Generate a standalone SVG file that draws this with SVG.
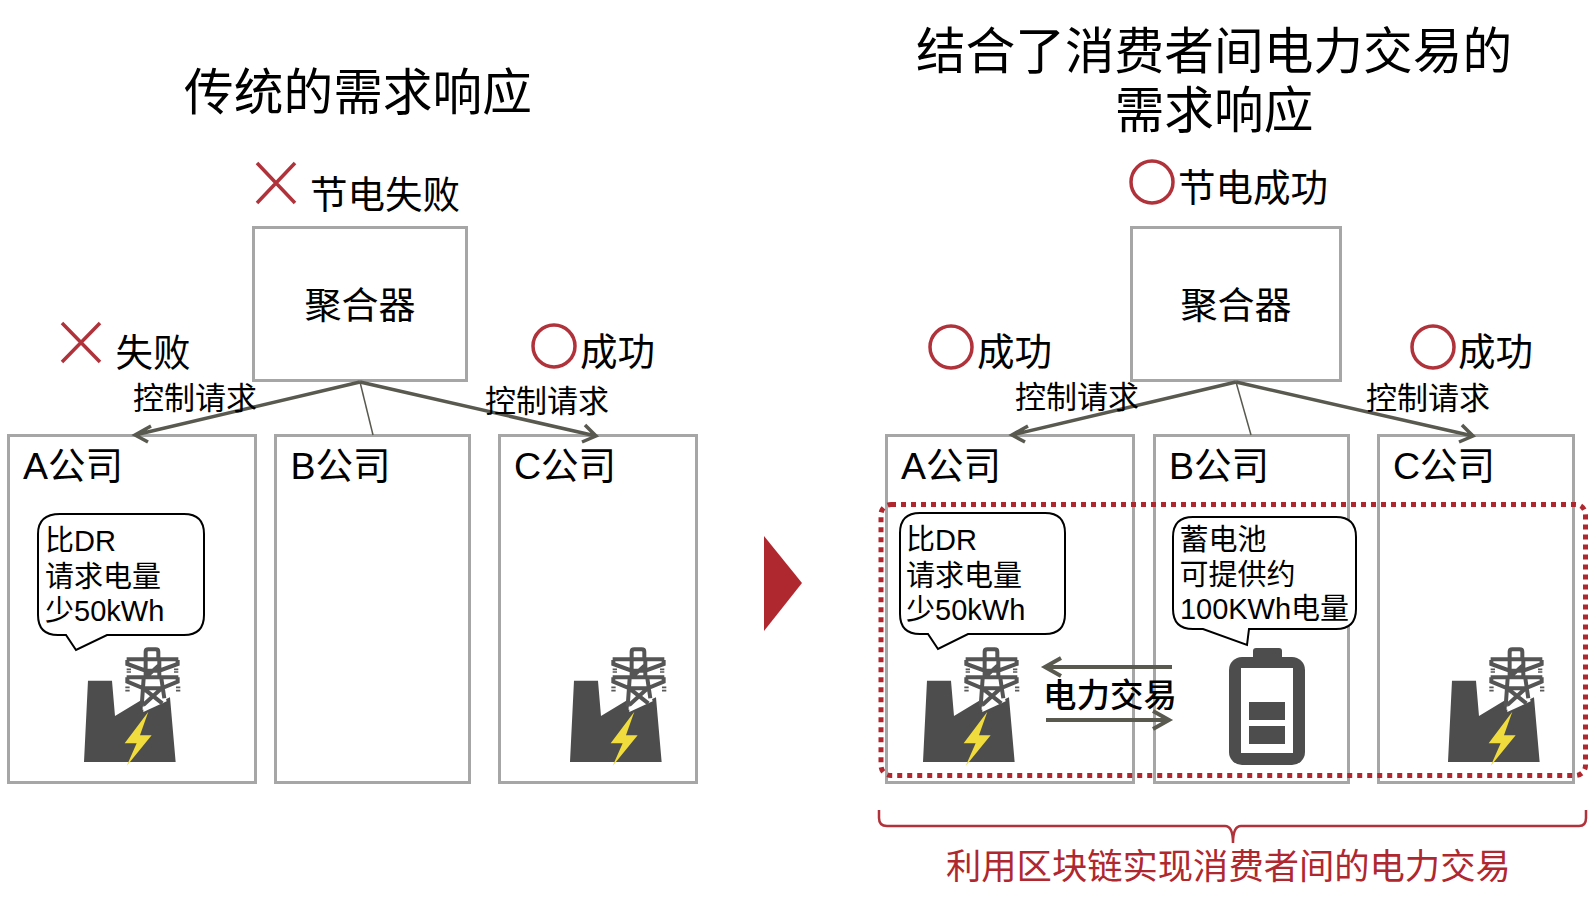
<svg xmlns="http://www.w3.org/2000/svg" width="1588" height="906" viewBox="0 0 1588 906">
<style>
text{font-family:"Liberation Sans","Noto Sans CJK SC",sans-serif;fill:#000}
.title{font-size:49.7px;text-anchor:middle}
.l{font-size:37.5px}
.c{font-size:37px;text-anchor:middle}
.req{font-size:31px}
.b{font-size:29px}
.box{fill:#fff;stroke:#a6a6a6;stroke-width:3}
.bub{fill:#fff;stroke:#000;stroke-width:2}
.mark{fill:none;stroke:#b0323a;stroke-width:3.5}
.thick{fill:none;stroke:#595950;stroke-width:3.5}
.thin{fill:none;stroke:#595950;stroke-width:1.5}
.ic{fill:#4d4d4d}
.tw{fill:none;stroke:#555;stroke-width:12}
.red{fill:#b0282f}
</style>
<defs>
<g id="factory" transform="translate(0,480) scale(.3333)">
<path class="ic" d="M252 846L264 602H336L345 708L428 658V690L510 652L527 846Z"/>
<path fill="#fff" d="M432 625H490L500 664L430 696Z"/>
<g transform="translate(345,480)">
<path class="tw" d="M92 55V35Q92 28 100 28H122Q130 28 130 35V55M35 58H190M37 60V72L92 92H133L188 72V60M35 112H190M37 112V125L85 145H140L188 125V112M92 55V112M133 55V112M92 112L133 75M86 115L80 200M139 115L148 175M85 145L142 190M140 145L85 195"/>
<path d="M35 88h13M35 96h13M177 88h13M177 96h13M31 142h13M31 152h13M183 142h13M183 152h13" stroke="#595959" stroke-width="5"/>
</g>
<path d="M445 695L374 790H410L380 858L455 766H420Z" fill="#f0dc3c"/>
</g>
</defs>

<g id="title-left"><text class="title" x="358" y="110">传统的需求响应</text></g>
<g id="title-right"><text class="title" x="1214" y="69">结合了消费者间电力交易的</text><text class="title" x="1214" y="128">需求响应</text></g>

<g id="left-aggregator"><rect class="box" x="253.500" y="227.500" width="213" height="153"/><text class="c" x="360" y="319">聚合器</text></g>
<g id="left-a"><rect class="box" x="8.500" y="435.500" width="247" height="347"/><text class="l" x="23" y="479">A公司</text></g>
<g id="left-b"><rect class="box" x="275.500" y="435.500" width="194" height="347"/><text class="l" x="290.500" y="479">B公司</text></g>
<g id="left-c"><rect class="box" x="499.500" y="435.500" width="197" height="347"/><text class="l" x="514" y="479">C公司</text></g>

<g id="right-aggregator"><rect class="box" x="1131.500" y="227.500" width="209" height="153"/><text class="c" x="1236" y="319">聚合器</text></g>
<g id="right-a"><rect class="box" x="886.500" y="435.500" width="247" height="347"/><text class="l" x="901" y="479">A公司</text></g>
<g id="right-b"><rect class="box" x="1154.500" y="435.500" width="194" height="347"/><text class="l" x="1169" y="479">B公司</text></g>
<g id="right-c"><rect class="box" x="1378.500" y="435.500" width="195" height="347"/><text class="l" x="1393" y="479">C公司</text></g>

<g id="connectors">
<path class="thick" d="M360 382L135 435M151 426L135 435L148 442"/>
<path class="thin" d="M360 382L373 435"/>
<path class="thick" d="M360 382L596 436M585 425L596 436L582 442"/>
<path class="thick" d="M1236 382L1012 435M1028 426L1012 435L1025 442"/>
<path class="thin" d="M1236 382L1251 435"/>
<path class="thick" d="M1236 382L1473 436M1462 425L1473 436L1459 442"/>
<path fill="none" stroke="#595950" stroke-width="4" d="M1172 667H1045M1061 658L1045 667L1061 676"/>
<path fill="none" stroke="#595950" stroke-width="4" d="M1046 720H1169M1153 711L1169 720L1153 729"/>
</g>

<g id="labels">
<text class="req" x="133" y="409">控制请求</text>
<text class="req" x="485" y="412">控制请求</text>
<text class="req" x="1015" y="407.500">控制请求</text>
<text class="req" x="1366" y="409">控制请求</text>
<text class="l" x="310" y="207.500">节电失败</text>
<text class="l" x="115.500" y="365.500">失败</text>
<text class="l" x="580" y="364.500">成功</text>
<text class="l" x="1178" y="201">节电成功</text>
<text class="l" x="977" y="365">成功</text>
<text class="l" x="1458" y="365">成功</text>
<text x="1043" y="707" font-size="33.500" font-weight="500">电力交易</text>
</g>

<g id="marks">
<path class="mark" d="M257 163L295 203M295 163L257 203"/>
<path class="mark" d="M62 323L100 362M100 323L62 362"/>
<circle class="mark" cx="554" cy="346" r="21"/>
<circle class="mark" cx="1152" cy="182" r="21"/>
<circle class="mark" cx="951" cy="347" r="21"/>
<circle class="mark" cx="1433" cy="347" r="21"/>
</g>

<g id="bubble-left">
<path class="bub" d="M60 514H184Q204 514 204 534V615Q204 635 184 635H107L76 650L66 635H58Q38 635 38 615V534Q38 514 60 514Z"/>
<text class="b" x="45" y="551">比DR</text><text class="b" x="45" y="587">请求电量</text><text class="b" x="45" y="621">少50kWh</text>
</g>
<g id="bubble-right-a">
<path class="bub" d="M920 513H1045Q1065 513 1065 533V614Q1065 634 1045 634H968L938 649L928 634H920Q900 634 900 614V533Q900 513 920 513Z"/>
<text class="b" x="906" y="550">比DR</text><text class="b" x="906" y="586">请求电量</text><text class="b" x="906" y="620">少50kWh</text>
</g>
<g id="bubble-right-b">
<path class="bub" d="M1193 517H1336Q1356 517 1356 537V609Q1356 629 1336 629H1249L1247 645L1203 629H1193Q1173 629 1173 609V537Q1173 517 1193 517Z"/>
<text class="b" x="1179.500" y="550">蓄电池</text><text class="b" x="1179.500" y="585">可提供约</text><text class="b" x="1180" y="619" textLength="169">100KWh电量</text>
</g>

<g id="factory-left-a"><use href="#factory"/></g>
<g id="factory-left-c"><use href="#factory" x="486"/></g>
<g id="factory-right-a"><use href="#factory" x="839"/></g>
<g id="factory-right-c"><use href="#factory" x="1364"/></g>

<g id="battery">
<rect class="ic" x="1253" y="648" width="29" height="14" rx="3"/>
<rect class="ic" x="1229" y="657" width="76" height="108" rx="13"/>
<rect x="1241" y="668" width="52" height="85" fill="#fff"/>
<rect class="ic" x="1249" y="702" width="36" height="18"/>
<rect class="ic" x="1249" y="726" width="36" height="18"/>
</g>

<g id="trade-zone">
<rect x="881" y="504.500" width="704.500" height="271" rx="10" fill="none" stroke="#b0282f" stroke-width="5" stroke-dasharray="5 5"/>
<path d="M879 810V818Q879 826 887 826H1225Q1233 826 1233 843Q1233 826 1241 826H1579Q1586 826 1586 818V810" fill="none" stroke="#b0323a" stroke-width="2.5"/>
<text x="946" y="879" font-size="35.300" style="fill:#b0282f">利用区块链实现消费者间的电力交易</text>
</g>

<polygon id="arrow" class="red" points="764,536 802,583 764,631"/>
</svg>
